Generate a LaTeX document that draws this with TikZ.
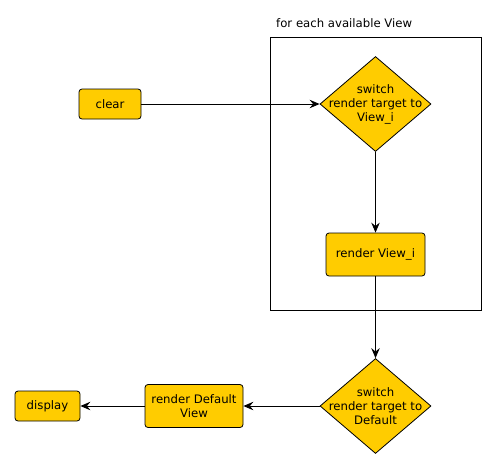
\documentclass[tikz,border=0pt]{standalone}
\usepackage{fontspec}
\setmainfont{DejaVu Sans}
\usetikzlibrary{shapes.geometric,arrows.meta}
\definecolor{stepfill}{HTML}{FFCC00}
\tikzset{
  every node/.style={font=\fontsize{11.7}{14}\selectfont},
  stepbox/.style={draw=black, fill=stepfill, rounded corners=3pt, inner sep=0pt, align=center, line width=0.8pt},
  decision/.style={draw=black, fill=stepfill, shape=diamond, inner sep=0pt, line width=0.8pt,
    minimum width=111pt, minimum height=95pt},
  flow/.style={draw=black, line width=0.9pt, -{Stealth[length=10pt,width=8.5pt,inset=3.5pt]}},
}
\begin{document}
\begin{tikzpicture}[x=1pt,y=-1pt]
  \useasboundingbox (0,0) rectangle (497,469);

  % loop frame
  \node[draw=black, line width=0.8pt, minimum width=211pt, minimum height=273pt, inner sep=0pt]
    (frame) at (375.5,173.5) {};
  \node[anchor=west, inner sep=0pt] (framelabel) at (276,23) {for each available View};

  % steps
  \node[stepbox, minimum width=62pt, minimum height=30pt] (clear) at (110,104) {clear};
  \node[decision, label={[align=center, inner sep=0pt]center:switch\\render target to\\View\_i}]
    (sw1) at (375.5,104) {};
  \node[stepbox, minimum width=99pt, minimum height=43pt] (rv) at (375.5,254.5) {render View\_i};
  \node[decision, label={[align=center, inner sep=0pt]center:switch\\render target to\\Default}]
    (sw2) at (375.5,406) {};
  \node[stepbox, minimum width=98pt, minimum height=43pt] (rd) at (194,406) {render Default\\View};
  \node[stepbox, minimum width=65pt, minimum height=30pt] (disp) at (47.5,406) {display};

  % connectors
  \draw[flow] (clear.east) -- (sw1.west);
  \draw[flow] (sw1.south) -- (rv.north);
  \draw[flow] (rv.south) -- (sw2.north);
  \draw[flow] (sw2.west) -- (rd.east);
  \draw[flow] (rd.west) -- (disp.east);
\end{tikzpicture}
\end{document}
